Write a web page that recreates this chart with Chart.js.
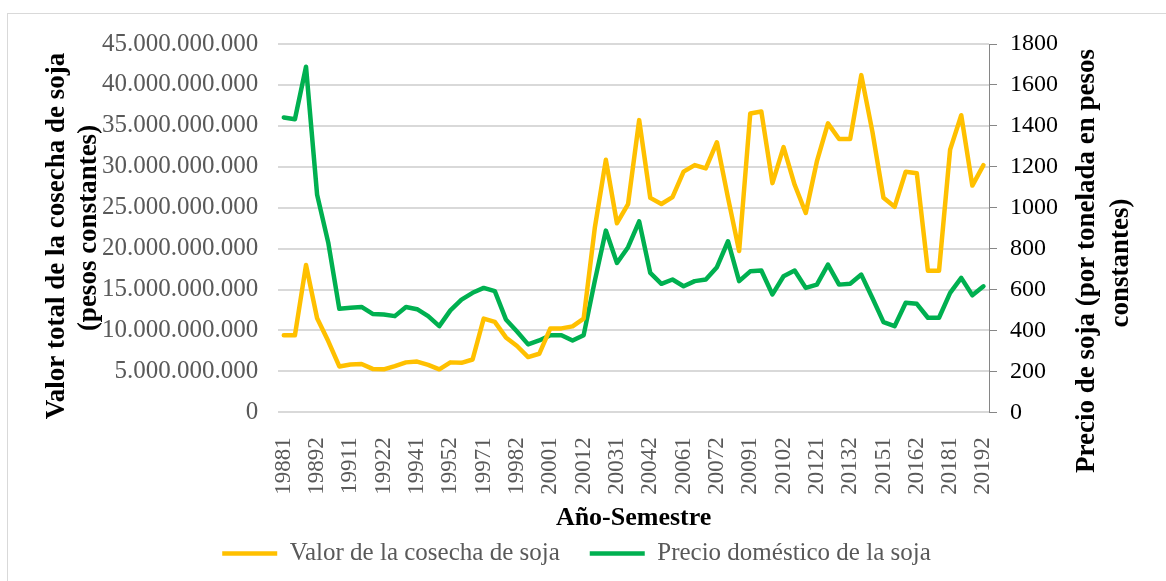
<!DOCTYPE html>
<html>
<head>
<meta charset="utf-8">
<script src="https://cdn.jsdelivr.net/npm/chart.js@4"></script>
<style>
  body { margin: 0; background: #fff; overflow: hidden; }
  #frame { position: absolute; left: 7px; top: 13px; width: 1300px; height: 700px; border: 1.5px solid #d9d9d9; }
  #wrap { position: absolute; left: 0; top: 0; width: 1166px; height: 581px; }
</style>
</head>
<body>
<div id="frame"></div>
<div id="wrap"><canvas id="sojaChart" width="1166" height="581"></canvas></div>
<script>
// Año-Semestre
const semestres = [
    '19881','19882','19891','19892','19901','19902','19911','19912','19921','19922',
    '19931','19932','19941','19942','19951','19952','19961','19962','19971','19972',
    '19981','19982','19991','19992','20001','20002','20011','20012','20021','20022',
    '20031','20032','20041','20042','20051','20052','20061','20062','20071','20072',
    '20081','20082','20091','20092','20101','20102','20111','20112','20121','20122',
    '20131','20132','20141','20142','20151','20152','20161','20162','20171','20172',
    '20181','20182','20191','20192'
];

// Valor de la cosecha de soja (pesos constantes)
const valorCosecha = [
    9.4e9, 9.4e9, 18.0e9, 11.5e9, 8.7e9, 5.6e9, 5.85e9, 5.9e9, 5.3e9, 5.25e9,
    5.65e9, 6.1e9, 6.2e9, 5.8e9, 5.25e9, 6.1e9, 6.05e9, 6.45e9, 11.45e9, 11.05e9,
    9.15e9, 8.1e9, 6.75e9, 7.15e9, 10.25e9, 10.25e9, 10.5e9, 11.45e9, 22.5e9, 30.85e9,
    23.1e9, 25.45e9, 35.7e9, 26.2e9, 25.45e9, 26.3e9, 29.4e9, 30.2e9, 29.8e9, 33.0e9,
    26.2e9, 19.7e9, 36.5e9, 36.75e9, 28.0e9, 32.4e9, 27.8e9, 24.35e9, 30.65e9, 35.3e9,
    33.4e9, 33.4e9, 41.2e9, 34.3e9, 26.2e9, 25.1e9, 29.4e9, 29.2e9, 17.3e9, 17.3e9,
    32.1e9, 36.3e9, 27.7e9, 30.2e9
];

// Precio doméstico de la soja (por tonelada, pesos constantes)
const precioSoja = [
    1441, 1432, 1689, 1063, 830, 506, 511, 515, 481, 478,
    470, 515, 504, 470, 421, 498, 551, 584, 608, 592,
    454, 395, 332, 351, 377, 377, 351, 377, 641, 888,
    730, 807, 933, 681, 628, 649, 616, 641, 649, 709,
    836, 641, 689, 693, 576, 665, 693, 608, 624, 722,
    624, 628, 673, 559, 441, 421, 535, 530, 462, 462,
    584, 657, 572, 616
];

const tituloIzq = ['Valor total de la cosecha de soja', '(pesos constantes)'];
const tituloDer = ['Precio de soja (por tonelada en pesos', 'constantes)'];

const serif = '"Liberation Serif", "Times New Roman", serif';

// titulos de los ejes y, leidos de abajo hacia arriba
const axisTitles = {
    id: 'axisTitles',
    afterDraw(chart) {
        const ctx = chart.ctx;
        ctx.save();
        ctx.fillStyle = '#000';
        ctx.font = 'bold 27px ' + serif;
        ctx.textAlign = 'center';
        ctx.textBaseline = 'middle';
        const put = (text, x, y) => {
            ctx.save();
            ctx.translate(x, y);
            ctx.rotate(-Math.PI / 2);
            ctx.fillText(text, 0, 0);
            ctx.restore();
        };
        put(tituloIzq[0], 57, 236);
        put(tituloIzq[1], 89, 228);
        put(tituloDer[0], 1087, 261);
        put(tituloDer[1], 1121, 263);
        ctx.restore();
    }
};

const puntos = v => v.toString().replace(/\B(?=(\d{3})+(?!\d))/g, '.');

const canvas = document.getElementById('sojaChart');
const sojaChart = new Chart(canvas, {
    type: 'line',
    data: {
        labels: semestres,
        datasets: [{
            label: 'Valor de la cosecha de soja',
            data: valorCosecha,
            yAxisID: 'y',
            borderColor: '#FFC000',
            backgroundColor: '#FFC000',
            borderWidth: 4.5,
            pointRadius: 0,
            tension: 0,
            borderJoinStyle: 'round',
            borderCapStyle: 'round'
        }, {
            label: 'Precio doméstico de la soja',
            data: precioSoja,
            yAxisID: 'y2',
            borderColor: '#00B050',
            backgroundColor: '#00B050',
            borderWidth: 4.5,
            pointRadius: 0,
            tension: 0,
            borderJoinStyle: 'round',
            borderCapStyle: 'round'
        }]
    },
    options: {
        responsive: false,
        animation: false,
        layout: {
            padding: { left: 82, right: 95, top: 44, bottom: 5 }
        },
        plugins: {
            legend: {
                position: 'bottom',
                labels: {
                    usePointStyle: true,
                    pointStyle: 'line',
                    pointStyleWidth: 55,
                    color: '#595959',
                    font: { family: serif, size: 25 },
                    padding: 30
                }
            },
            tooltip: { enabled: false }
        },
        scales: {
            x: {
                offset: true,
                grid: { display: false },
                border: { display: false },
                ticks: {
                    autoSkip: false,
                    maxRotation: 90,
                    minRotation: 90,
                    padding: 17,
                    color: '#595959',
                    font: { family: serif, size: 23 },
                    callback: function (val, i) {
                        return i % 3 === 0 ? this.getLabelForValue(val) : '';
                    }
                },
                title: {
                    display: true,
                    text: 'Año-Semestre',
                    color: '#000',
                    font: { family: serif, size: 26, weight: 'bold' },
                    padding: { top: -9, bottom: -23 }
                }
            },
            y: {
                position: 'left',
                min: 0,
                max: 45000000000,
                grid: { color: '#d9d9d9', lineWidth: 2, drawTicks: false },
                border: { display: false },
                ticks: {
                    stepSize: 5000000000,
                    padding: 20,
                    color: '#595959',
                    font: { family: serif, size: 25 },
                    callback: v => puntos(v)
                }
            },
            y2: {
                position: 'right',
                min: 0,
                max: 1800,
                grid: { drawOnChartArea: false, color: '#868686', tickLength: 8 },
                border: { display: true, color: '#868686', width: 1 },
                ticks: {
                    stepSize: 200,
                    padding: 13,
                    color: '#000',
                    font: { family: serif, size: 24 },
                    callback: v => String(v)
                }
            }
        }
    },
    plugins: [axisTitles]
});
</script>
</body>
</html>
